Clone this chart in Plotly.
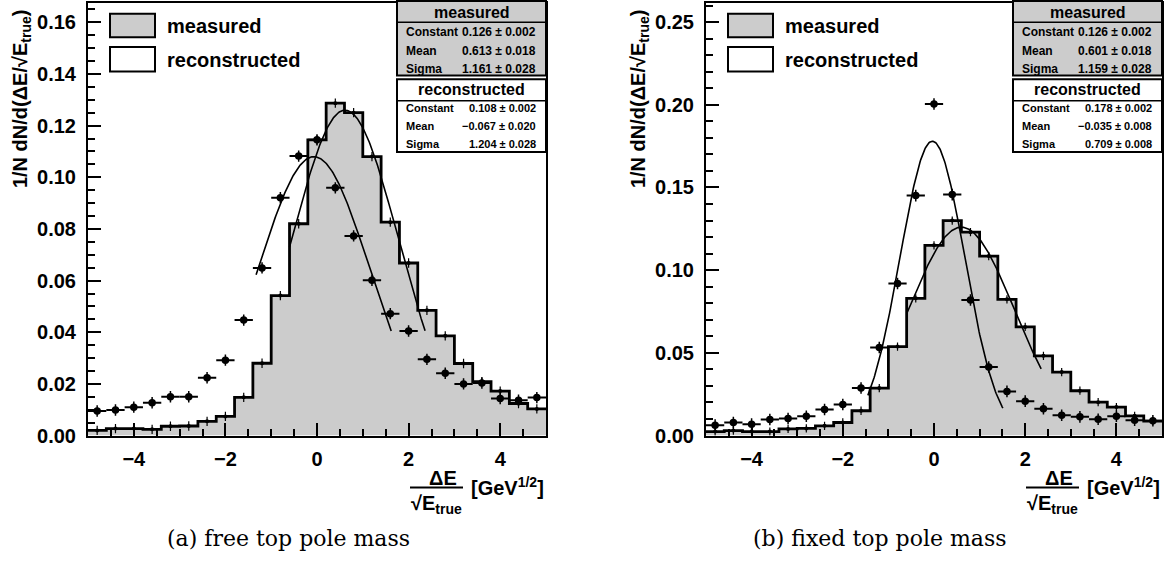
import numpy as np
import plotly.graph_objects as go

# ---------------- data ----------------
bin_centers = [-4.8, -4.4, -4.0, -3.6, -3.2, -2.8, -2.4, -2.0, -1.6, -1.2, -0.8, -0.4,
               0.0, 0.4, 0.8, 1.2, 1.6, 2.0, 2.4, 2.8, 3.2, 3.6, 4.0, 4.4, 4.8]
bin_half_width = 0.2

measured_a = [0.0020, 0.0027, 0.0027, 0.0024, 0.0036, 0.0037, 0.0055, 0.0074, 0.0148, 0.0280,
              0.0542, 0.0820, 0.1145, 0.1287, 0.1250, 0.1080, 0.0826, 0.0668, 0.0485, 0.0386,
              0.0279, 0.0209, 0.0172, 0.0124, 0.0103]
reconstructed_a = [0.0095, 0.0099, 0.0110, 0.0127, 0.0150, 0.0150, 0.0224, 0.0292, 0.0447, 0.0649,
                   0.0921, 0.1082, 0.1145, 0.0959, 0.0773, 0.0601, 0.0472, 0.0405, 0.0295, 0.0241,
                   0.0200, 0.0203, 0.0143, 0.0137, 0.0147]

measured_b = [0.0024, 0.0030, 0.0024, 0.0024, 0.0040, 0.0043, 0.0059, 0.0079, 0.0150, 0.0287,
              0.0538, 0.0830, 0.1150, 0.1300, 0.1230, 0.1085, 0.0824, 0.0657, 0.0482, 0.0384,
              0.0271, 0.0202, 0.0172, 0.0119, 0.0087]
reconstructed_b = [0.0063, 0.0079, 0.0069, 0.0097, 0.0103, 0.0117, 0.0158, 0.0188, 0.0287, 0.0532,
                   0.0919, 0.1451, 0.2005, 0.1457, 0.0820, 0.0415, 0.0267, 0.0208, 0.0162, 0.0123,
                   0.0113, 0.0099, 0.0117, 0.0093, 0.0090]

# Gaussian fit parameters (constant, mean, sigma) and drawn fit ranges
fit_measured_a = [0.126, 0.613, 1.161]
fit_range_measured_a = [-0.60, 2.36]
fit_reconstructed_a = [0.108, -0.067, 1.204]
fit_range_reconstructed_a = [-1.33, 1.62]
fit_measured_b = [0.126, 0.601, 1.159]
fit_range_measured_b = [-0.60, 2.35]
fit_reconstructed_b = [0.178, -0.035, 0.709]
fit_range_reconstructed_b = [-1.45, 1.51]

stat_rows_label = ["Constant", "Mean", "Sigma"]
stat_measured_a = ["0.126 ± 0.002", "0.613 ± 0.018", "1.161 ± 0.028"]
stat_reconstructed_a = ["0.108 ± 0.002", "−0.067 ± 0.020", "1.204 ± 0.028"]
stat_measured_b = ["0.126 ± 0.002", "0.601 ± 0.018", "1.159 ± 0.028"]
stat_reconstructed_b = ["0.178 ± 0.002", "−0.035 ± 0.008", "0.709 ± 0.008"]

x_tick_vals = [-4, -2, 0, 2, 4]
captions = ["(a) free top pole mass", "(b) fixed top pole mass"]
y_ranges = [[0, 0.1675], [0, 0.2616]]
y_dticks = [0.02, 0.05]
y_minor = [0.005, 0.01]

# ---------------- layout geometry ----------------
W, H = 1169, 578
FONT = "Liberation Sans"
GRAY = "#cccccc"


def px(x):
    return x / W


def py(y):
    return 1 - y / H


panels = [dict(x0=88, x1=546), dict(x0=706, x1=1162)]
y_top, y_bot = 3, 444

fig = go.Figure()

datasets = [
    (measured_a, reconstructed_a, fit_measured_a, fit_range_measured_a,
     fit_reconstructed_a, fit_range_reconstructed_a, 0.0018, 0.0022),
    (measured_b, reconstructed_b, fit_measured_b, fit_range_measured_b,
     fit_reconstructed_b, fit_range_reconstructed_b, 0.0025, 0.0035),
]


def gauss_curve(params, rng):
    c, m, s = params
    xs = np.linspace(rng[0], rng[1], 200)
    return xs, c * np.exp(-0.5 * ((xs - m) / s) ** 2)


for i, (meas, reco, fm, frm, fr, frr, em, er) in enumerate(datasets):
    xa = "x" if i == 0 else "x2"
    ya = "y" if i == 0 else "y2"
    edges = [c - bin_half_width for c in bin_centers] + [bin_centers[-1] + bin_half_width]
    steps = list(meas) + [meas[-1]]
    # filled histogram
    fig.add_trace(go.Scatter(x=edges, y=steps, mode="lines", line_shape="hv",
                             line=dict(color="black", width=2.8), fill="tozeroy",
                             fillcolor=GRAY, xaxis=xa, yaxis=ya, showlegend=False,
                             hoverinfo="skip"))
    # measured bin markers
    fig.add_trace(go.Scatter(x=bin_centers, y=meas, mode="markers",
                             marker=dict(color="black", size=4),
                             error_y=dict(type="constant", value=em, color="black",
                                          thickness=1.2, width=0),
                             xaxis=xa, yaxis=ya, showlegend=False))
    # fits
    gx, gy = gauss_curve(fm, frm)
    fig.add_trace(go.Scatter(x=gx, y=gy, mode="lines", line=dict(color="black", width=1.6),
                             xaxis=xa, yaxis=ya, showlegend=False))
    gx, gy = gauss_curve(fr, frr)
    fig.add_trace(go.Scatter(x=gx, y=gy, mode="lines", line=dict(color="black", width=1.6),
                             xaxis=xa, yaxis=ya, showlegend=False))
    # reconstructed points
    fig.add_trace(go.Scatter(x=bin_centers, y=reco, mode="markers",
                             marker=dict(color="black", size=7.5),
                             error_x=dict(type="constant", value=bin_half_width, color="black",
                                          thickness=2, width=0),
                             error_y=dict(type="constant", value=er, color="black",
                                          thickness=1.5, width=0),
                             xaxis=xa, yaxis=ya, showlegend=False))

axis_common = dict(showline=True, mirror=True, linewidth=2, linecolor="black",
                   showgrid=False, zeroline=False, ticks="inside", tickwidth=2,
                   ticklen=13, tickcolor="black",
                   tickfont=dict(family=FONT, size=20, color="black", weight="bold"))

layout = dict(width=W, height=H, margin=dict(l=0, r=0, t=0, b=0),
              paper_bgcolor="white", plot_bgcolor="white", showlegend=False)

for i, p in enumerate(panels):
    sx = "" if i == 0 else "2"
    layout["xaxis" + sx] = dict(axis_common, domain=[px(p["x0"]), px(p["x1"])],
                                anchor="y" + sx, range=[-5, 5], tickvals=x_tick_vals,
                                ticklabelstandoff=4,
                                minor=dict(dtick=0.5, ticks="inside", ticklen=7,
                                           tickwidth=1.5, tickcolor="black"))
    layout["yaxis" + sx] = dict(axis_common, domain=[py(y_bot), py(y_top)],
                                anchor="x" + sx, range=y_ranges[i], dtick=y_dticks[i],
                                tickformat=".2f", ticklabelstandoff=6,
                                minor=dict(dtick=y_minor[i], ticks="inside", ticklen=7,
                                           tickwidth=1.5, tickcolor="black"))

fig.update_layout(**layout)

shapes = []
annotations = []


def rect(x0, y0, x1, y1, fill, lw=2):
    shapes.append(dict(type="rect", xref="paper", yref="paper", x0=px(x0), x1=px(x1),
                       y0=py(y1), y1=py(y0), fillcolor=fill,
                       line=dict(color="black", width=lw), layer="above"))


def hline(x0, x1, y, lw=2):
    shapes.append(dict(type="line", xref="paper", yref="paper", x0=px(x0), x1=px(x1),
                       y0=py(y), y1=py(y), line=dict(color="black", width=lw),
                       layer="above"))


def text(x, y, s, size, xanchor="center", yanchor="middle", family=FONT, bold=True,
         angle=0):
    annotations.append(dict(xref="paper", yref="paper", x=px(x), y=py(y), text=s,
                            showarrow=False, xanchor=xanchor, yanchor=yanchor,
                            textangle=angle,
                            font=dict(family=family, size=size, color="black",
                                      weight="bold" if bold else "normal")))


stats = [(stat_measured_a, stat_reconstructed_a), (stat_measured_b, stat_reconstructed_b)]

for i, p in enumerate(panels):
    dx = p["x1"] - 546
    lx = p["x0"] - 88
    # legend
    rect(110 + lx, 14, 155 + lx, 38, GRAY)
    rect(110 + lx, 48, 155 + lx, 73, "white")
    text(165 + lx, 27, "measured", 20, xanchor="left")
    text(165 + lx, 61, "reconstructed", 20, xanchor="left")
    # stat boxes
    sm, sr = stats[i]
    bx0, bx1 = 397 + dx, 546 + dx
    rect(bx0, 1, bx1, 77, GRAY)
    hline(bx0, bx1, 22.7, 1.5)
    text((bx0 + bx1) / 2, 12.5, "measured", 16)
    for k, yy in enumerate([32.3, 51.5, 70]):
        text(bx0 + 7, yy, stat_rows_label[k], 12, xanchor="left")
        text(bx1 - 8, yy, sm[k], 12, xanchor="right")
    rect(bx0, 80.7, bx1, 155, "white")
    hline(bx0, bx1, 102.7, 1.5)
    text((bx0 + bx1) / 2, 91.5, "reconstructed", 16)
    for k, yy in enumerate([110.5, 128.5, 146.5]):
        text(bx0 + 7, yy, stat_rows_label[k], 11, xanchor="left")
        text(bx1 - 8, yy, sr[k], 11, xanchor="right")
    # y-axis title
    text(p["x0"] - 67, 101, "1/N dN/d(ΔE/√E<sub>true</sub>)", 20, angle=-90)
    # x-axis title (fraction)
    text(443 + dx, 487, "ΔE", 20)
    hline(410 + dx, 463 + dx, 497, 2)
    text(436 + dx, 514, "√E<sub>true</sub>", 20)
    text(507 + dx, 496, "[GeV<sup>1/2</sup>]", 20)
    # caption
    text([288, 880][i], 549, captions[i], 22, family="DejaVu Serif", bold=False)

fig.update_layout(shapes=shapes, annotations=annotations)
fig.write_html("out.html", config={"displayModeBar": False},
               post_script="document.body.style.margin='0';document.body.style.overflow='hidden';")
